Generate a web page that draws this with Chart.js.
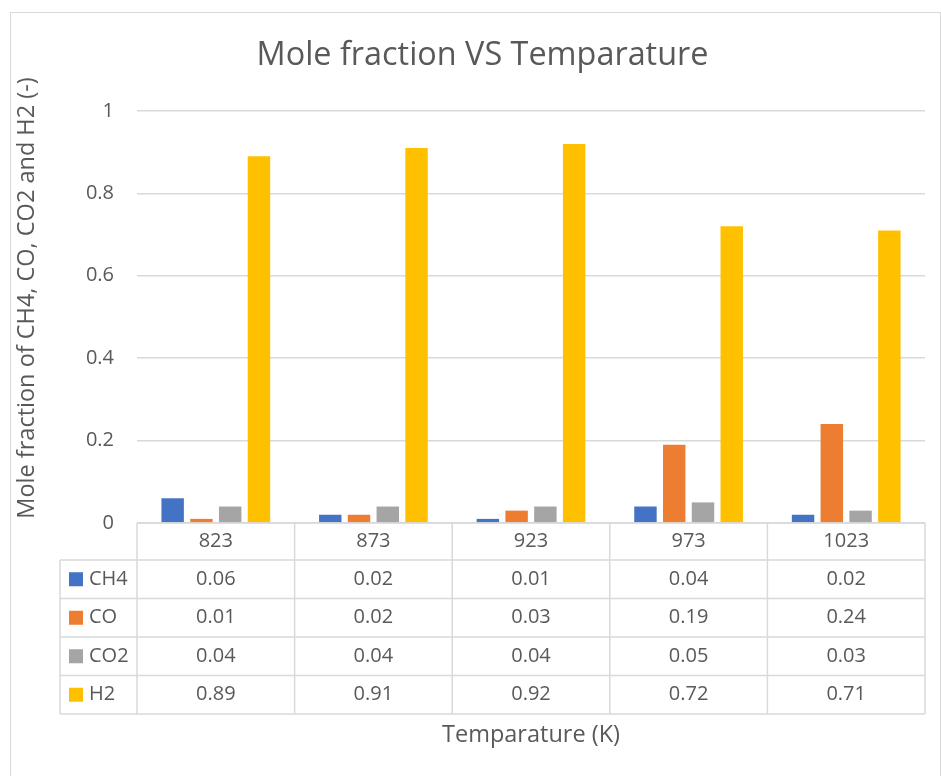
<!DOCTYPE html>
<html>
<head>
<meta charset="utf-8">
<script src="https://cdn.jsdelivr.net/npm/chart.js@4.4.1/dist/chart.umd.min.js"></script>
<style>
    body { margin: 0; background: #fff; }
    #frame { position: absolute; left: 10px; top: 12px; width: 929px; height: 800px; border: 1px solid #d9d9d9; }
    #wrap { position: absolute; left: 0; top: 0; width: 941px; height: 776px; }
</style>
</head>
<body>
<div id="frame"></div>
<div id="wrap"><canvas id="chart" width="941" height="776"></canvas></div>
<script>
var temperatures = ['823', '873', '923', '973', '1023'];
var ch4 = [0.06, 0.02, 0.01, 0.04, 0.02];
var co = [0.01, 0.02, 0.03, 0.19, 0.24];
var co2 = [0.04, 0.04, 0.04, 0.05, 0.03];
var h2 = [0.89, 0.91, 0.92, 0.72, 0.71];
var series_names = ['CH4', 'CO', 'CO2', 'H2'];
var series_colors = ['#4472C4', '#ED7D31', '#A5A5A5', '#FFC000'];
var y_min = 0, y_max = 1, y_step = 0.2;
var y_title = 'Mole fraction of CH4, CO, CO2 and H2 (-)';

var text_color = '#595959';
var line_color = '#d9d9d9';
var font_family = '"Open Sans", sans-serif';

// Excel style data table under the plot, aligned on the x scale
var data_table = {
    id: 'data_table',
    afterDraw: function(chart) {
        var ctx = chart.ctx;
        var area = chart.chartArea;
        var xs = chart.scales.x;
        var labels = chart.data.labels;
        var sets = chart.data.datasets;
        var cat_w = (area.right - area.left) / labels.length;
        var top = area.bottom;
        var head_h = 37, row_h = 38.5, key_left = 60;
        var bottom = top + head_h + row_h * sets.length;

        ctx.save();
        ctx.strokeStyle = line_color;
        ctx.lineWidth = 1.5;
        function line(x1, y1, x2, y2) {
            ctx.beginPath();
            ctx.moveTo(x1, y1);
            ctx.lineTo(x2, y2);
            ctx.stroke();
        }
        line(area.left, top, area.right, top);
        for (let i = 0; i <= sets.length; i++) {
            var y = top + head_h + row_h * i;
            line(key_left, y, area.right, y);
        }
        for (let i = 0; i <= labels.length; i++) {
            var xb = area.left + cat_w * i;
            line(xb, top, xb, bottom);
        }
        line(key_left, top + head_h, key_left, bottom);

        ctx.fillStyle = text_color;
        ctx.font = '20px ' + font_family;
        ctx.textAlign = 'center';
        ctx.textBaseline = 'middle';
        for (let i = 0; i < labels.length; i++) {
            ctx.fillText(labels[i], xs.getPixelForValue(i), top + head_h / 2);
        }
        for (let s = 0; s < sets.length; s++) {
            var yc = top + head_h + row_h * s + row_h / 2;
            ctx.textAlign = 'center';
            ctx.fillStyle = text_color;
            for (let i = 0; i < labels.length; i++) {
                ctx.fillText(sets[s].data[i].toFixed(2), xs.getPixelForValue(i), yc);
            }
            ctx.fillStyle = sets[s].backgroundColor;
            ctx.fillRect(69, yc - 7, 14, 14);
            ctx.fillStyle = text_color;
            ctx.textAlign = 'left';
            ctx.fillText(sets[s].label, 89, yc);
        }

        // vertical axis title, centred a bit above the plot middle like Excel does
        ctx.translate(27, 298);
        ctx.rotate(-Math.PI / 2);
        ctx.font = '23.5px ' + font_family;
        ctx.textAlign = 'center';
        ctx.fillStyle = text_color;
        ctx.fillText(y_title, 0, 0);
        ctx.restore();
    }
};

var all_values = [ch4, co, co2, h2];
var datasets = [];
for (let i = 0; i < series_names.length; i++) {
    datasets.push({
        label: series_names[i],
        data: all_values[i],
        backgroundColor: series_colors[i],
        borderWidth: 0,
        categoryPercentage: 0.73,
        barPercentage: 0.78
    });
}

var chart = new Chart(document.getElementById('chart'), {
    type: 'bar',
    data: { labels: temperatures, datasets: datasets },
    plugins: [data_table],
    options: {
        responsive: false,
        animation: false,
        devicePixelRatio: 1,
        // left padding pushes the title centre to the right, as in the Excel chart
        layout: { padding: { left: 40, right: 16, top: 0, bottom: 0 } },
        plugins: {
            legend: { display: false },
            tooltip: { enabled: false },
            title: {
                display: true,
                text: 'Mole fraction VS Temparature',
                color: text_color,
                font: { family: font_family, size: 32.4, weight: 'normal' },
                padding: { top: 36.6, bottom: 35.5 }
            }
        },
        scales: {
            x: {
                grid: { display: false, drawTicks: false },
                border: { display: false },
                ticks: { display: false },
                title: {
                    display: true,
                    text: 'Temparature (K)',
                    color: text_color,
                    font: { family: font_family, size: 23.5 },
                    padding: { top: 197.9, bottom: 26.9 }
                }
            },
            y: {
                min: y_min,
                max: y_max,
                ticks: {
                    stepSize: y_step,
                    color: text_color,
                    font: { family: font_family, size: 20 },
                    padding: 23,
                    callback: function(v) { return String(Math.round(v * 10) / 10); }
                },
                grid: { color: line_color, lineWidth: 1.5, drawTicks: false },
                border: { display: false },
                afterFit: function(scale) { scale.width = 97; }
            }
        }
    }
});
</script>
</body>
</html>
